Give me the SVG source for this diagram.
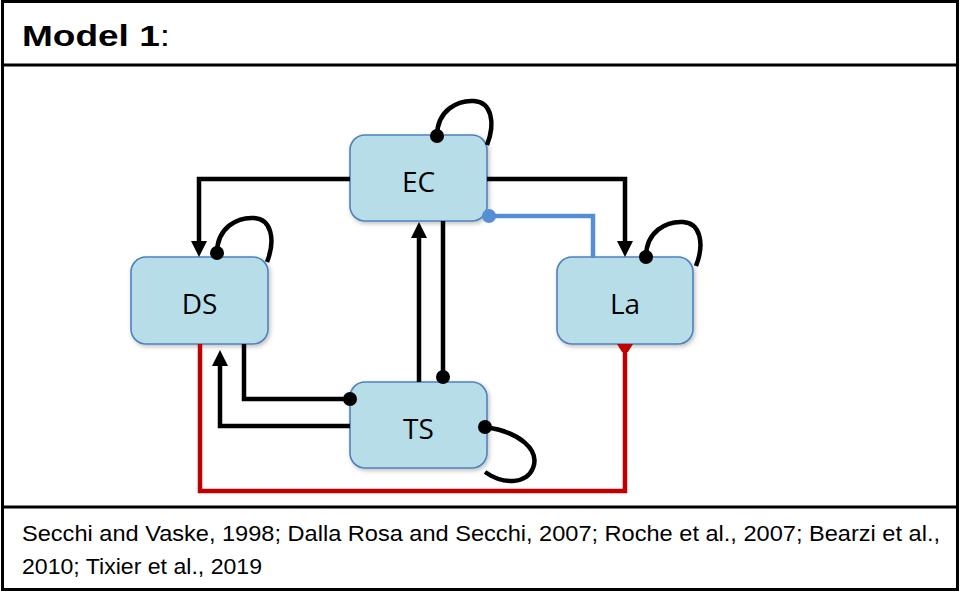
<svg xmlns="http://www.w3.org/2000/svg" width="960" height="592" viewBox="0 0 960 592">
  <defs>
    <style>
      .frame { fill: none; stroke: #000; stroke-width: 3; }
      .rule { stroke: #000; stroke-width: 3; }
      .box { fill: #b7dde8; stroke: #4f81bd; stroke-width: 1.6; filter: url(#shadow); }
      .lbl { font-family: "Open Sans", "Liberation Sans", sans-serif; font-size: 28px; fill: #000; text-anchor: middle; }
      .edge { fill: none; stroke: #000; stroke-width: 4.5; stroke-linejoin: miter; }
      .blue { stroke: #558ed5; }
      .red { stroke: #c00000; }
      .dot { fill: #000; }
      .title { font-family: "Liberation Sans", sans-serif; font-size: 30px; fill: #000; }
      .ref { font-family: "Liberation Sans", sans-serif; font-size: 22px; fill: #000; }
    </style>
    <filter id="shadow" x="-10%" y="-10%" width="130%" height="130%">
      <feDropShadow dx="1.5" dy="2" stdDeviation="2" flood-color="#000" flood-opacity="0.25"/>
    </filter>
    <marker id="arrow" viewBox="0 -8 16 16" refX="0" refY="0" markerWidth="16" markerHeight="16" markerUnits="userSpaceOnUse" orient="auto">
      <path d="M0,-8 L16,0 L0,8 Z" fill="#000"/>
    </marker>
  </defs>

  <rect width="960" height="592" fill="#fff"/>

  <!-- panel frame with title and reference bands -->
  <rect class="frame" x="2.5" y="1.5" width="955" height="588"/>
  <line class="rule" x1="2" y1="65" x2="958" y2="65"/>
  <line class="rule" x1="2" y1="507" x2="958" y2="507"/>
  <text class="title" x="22" y="46" textLength="148" lengthAdjust="spacingAndGlyphs"><tspan font-weight="bold">Model 1</tspan>:</text>

  <g id="EC">
    <rect class="box" x="350" y="135" width="137" height="86" rx="15"/>
    <text class="lbl" x="418.5" y="192">EC</text>
  </g>
  <g id="DS">
    <rect class="box" x="131" y="257" width="137" height="87" rx="15"/>
    <text class="lbl" x="199.5" y="314">DS</text>
  </g>
  <g id="La">
    <rect class="box" x="557" y="257" width="136" height="87" rx="15"/>
    <text class="lbl" x="625" y="314">La</text>
  </g>
  <g id="TS">
    <rect class="box" x="350" y="382" width="137" height="86" rx="15"/>
    <text class="lbl" x="418.5" y="439">TS</text>
  </g>

  <!-- connectors -->
  <g id="connectors">
    <path class="edge" d="M350,179 H199 V241" marker-end="url(#arrow)"/>
    <path class="edge" d="M487,179 H625 V241" marker-end="url(#arrow)"/>
    <path class="edge blue" d="M489,216 H593 V258"/>
    <circle cx="489" cy="216" r="7" fill="#558ed5"/>
    <path class="edge" d="M419,382 V238" marker-end="url(#arrow)"/>
    <path class="edge" d="M443,221 V377"/>
    <circle class="dot" cx="443" cy="377" r="7"/>
    <path class="edge" d="M244,344 V399 H350"/>
    <circle class="dot" cx="350" cy="399" r="7"/>
    <path class="edge" d="M350,426 H220 V366" marker-end="url(#arrow)"/>
    <path class="edge red" d="M200,344 V491 H625 V350"/>
    <path d="M617,344 L633,344 L628,352 L622,352 Z" fill="#c00000"/>
    <!-- self loops -->
    <path class="edge" d="M437,136 C437,110 458,100 474,101 C491,102 496,122 487,145"/>
    <circle class="dot" cx="437" cy="136" r="7"/>
    <path class="edge" d="M217,253 C217,227 238,217 254,218 C271,219 276,239 267,262"/>
    <circle class="dot" cx="217" cy="253" r="7"/>
    <path class="edge" d="M646,257 C646,231 667,221 683,222 C700,223 705,243 696,266"/>
    <circle class="dot" cx="646" cy="257" r="7"/>
    <path class="edge" d="M485,427 C520,432 540,450 533,468 C527,483 505,486 485,472"/>
    <circle class="dot" cx="485" cy="427" r="7"/>
  </g>

  <text class="ref" x="22" y="541" textLength="918" lengthAdjust="spacingAndGlyphs">Secchi and Vaske, 1998; Dalla Rosa and Secchi, 2007; Roche et al., 2007; Bearzi et al.,</text>
  <text class="ref" x="22" y="574" textLength="240" lengthAdjust="spacingAndGlyphs">2010; Tixier et al., 2019</text>
</svg>
